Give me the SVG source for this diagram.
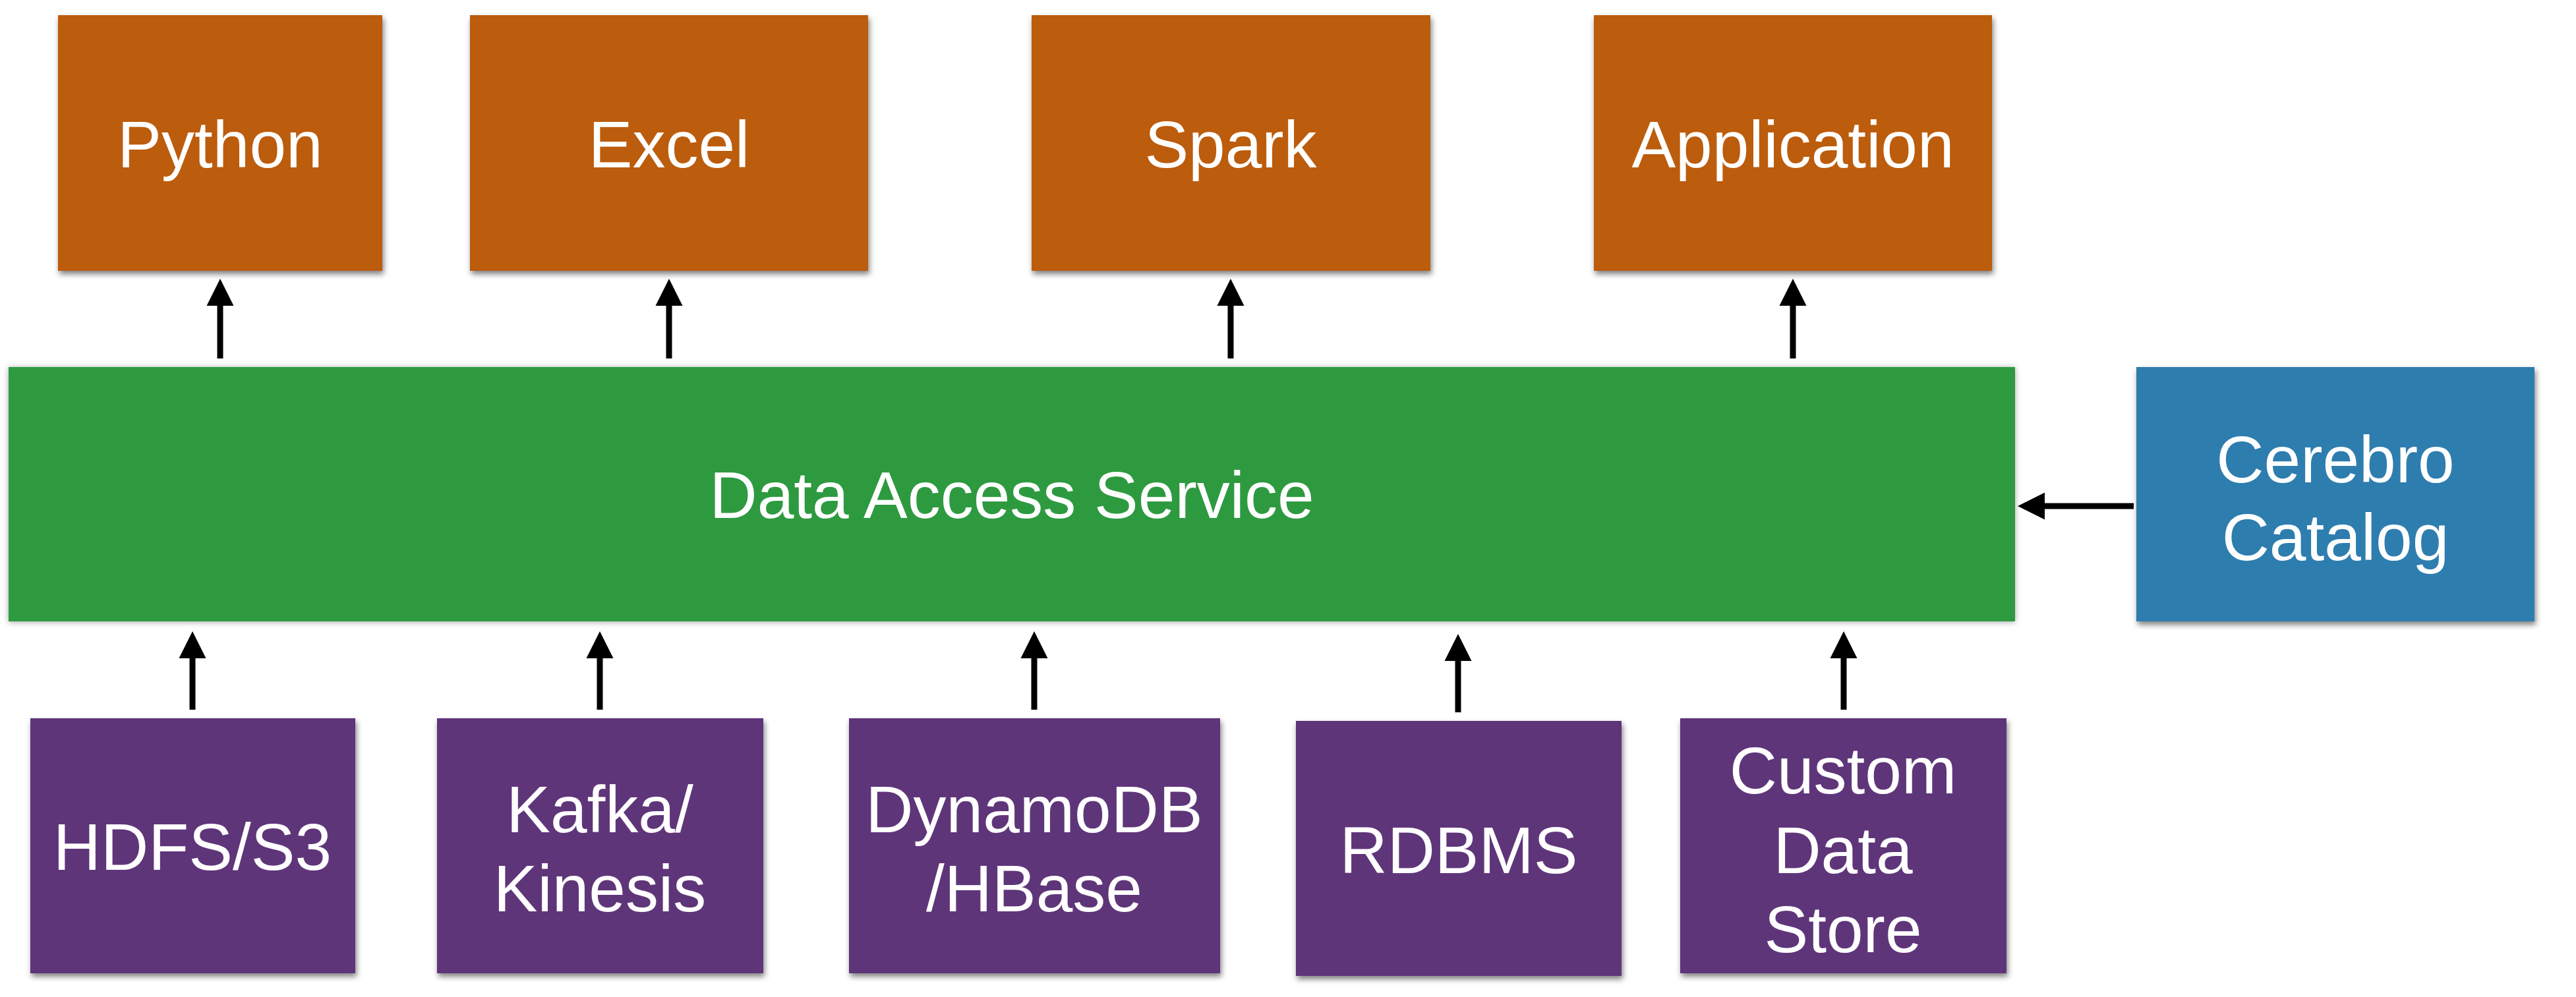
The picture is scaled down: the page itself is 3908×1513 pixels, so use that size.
<svg xmlns="http://www.w3.org/2000/svg" width="3908" height="1513" viewBox="0 0 3908 1513">
  <style>
    .lbl { font-family: "Liberation Sans", Arial, Helvetica, sans-serif; font-size: 100px; fill: #ffffff; text-anchor: middle; }
    .out { fill: #BC5C0C; }
    .svc { fill: #2F9A41; }
    .cat { fill: #2F7DAF; }
    .src { fill: #5E347A; }
    .conn { stroke: #000000; stroke-width: 9; fill: none; marker-end: url(#head); }
  </style>
  <defs>
    <filter id="shadow" x="-10%" y="-10%" width="125%" height="130%">
      <feDropShadow dx="2" dy="5" stdDeviation="4" flood-color="#000000" flood-opacity="0.5"/>
    </filter>
    <filter id="shadow2" x="-5%" y="-10%" width="110%" height="125%">
      <feDropShadow dx="0" dy="1" stdDeviation="5" flood-color="#000000" flood-opacity="0.35"/>
    </filter>
    <marker id="head" markerUnits="userSpaceOnUse" markerWidth="42" markerHeight="42" refX="0" refY="20.5" orient="auto" viewBox="0 0 42 41" overflow="visible">
      <path d="M0,0 L41,20.5 L0,41 Z" fill="#000000"/>
    </marker>
  </defs>
  <rect x="0" y="0" width="3908" height="1513" fill="#ffffff"/>

  <g id="python">
    <rect class="out" x="88" y="23" width="492" height="388" filter="url(#shadow)"/>
    <text class="lbl" x="334" y="254">Python</text>
  </g>
  <g id="excel">
    <rect class="out" x="713" y="23" width="604" height="388" filter="url(#shadow)"/>
    <text class="lbl" x="1015" y="254">Excel</text>
  </g>
  <g id="spark">
    <rect class="out" x="1565" y="23" width="605" height="388" filter="url(#shadow)"/>
    <text class="lbl" x="1867" y="254">Spark</text>
  </g>
  <g id="application">
    <rect class="out" x="2418" y="23" width="604" height="388" filter="url(#shadow)"/>
    <text class="lbl" x="2720" y="254">Application</text>
  </g>

  <g id="data-access-service">
    <rect class="svc" x="13" y="557" width="3044" height="386" filter="url(#shadow2)"/>
    <text class="lbl" x="1535" y="786">Data Access Service</text>
  </g>
  <g id="cerebro-catalog">
    <rect class="cat" x="3241" y="557" width="604" height="386" filter="url(#shadow)"/>
    <text class="lbl" x="3543" y="732">Cerebro</text>
    <text class="lbl" x="3543" y="850">Catalog</text>
  </g>

  <g id="hdfs-s3">
    <rect class="src" x="46" y="1090" width="493" height="387" filter="url(#shadow)"/>
    <text class="lbl" x="292" y="1320">HDFS/S3</text>
  </g>
  <g id="kafka-kinesis">
    <rect class="src" x="663" y="1090" width="495" height="387" filter="url(#shadow)"/>
    <text class="lbl" x="910" y="1263">Kafka/</text>
    <text class="lbl" x="910" y="1383">Kinesis</text>
  </g>
  <g id="dynamodb-hbase">
    <rect class="src" x="1288" y="1090" width="563" height="387" filter="url(#shadow)"/>
    <text class="lbl" x="1569" y="1263">DynamoDB</text>
    <text class="lbl" x="1569" y="1383">/HBase</text>
  </g>
  <g id="rdbms">
    <rect class="src" x="1966" y="1094" width="494" height="387" filter="url(#shadow)"/>
    <text class="lbl" x="2213" y="1325">RDBMS</text>
  </g>
  <g id="custom-data-store">
    <rect class="src" x="2549" y="1090" width="495" height="387" filter="url(#shadow)"/>
    <text class="lbl" x="2796" y="1204">Custom</text>
    <text class="lbl" x="2796" y="1325">Data</text>
    <text class="lbl" x="2796" y="1445">Store</text>
  </g>

  <g id="connectors">
    <line class="conn" x1="334" y1="544" x2="334" y2="464"/>
    <line class="conn" x1="1015" y1="544" x2="1015" y2="464"/>
    <line class="conn" x1="1867" y1="544" x2="1867" y2="464"/>
    <line class="conn" x1="2720" y1="544" x2="2720" y2="464"/>
    <line class="conn" x1="292" y1="1077" x2="292" y2="999"/>
    <line class="conn" x1="910" y1="1077" x2="910" y2="999"/>
    <line class="conn" x1="1569" y1="1077" x2="1569" y2="999"/>
    <line class="conn" x1="2212" y1="1081" x2="2212" y2="1003"/>
    <line class="conn" x1="2797" y1="1077" x2="2797" y2="999"/>
    <line class="conn" x1="3237" y1="768" x2="3102" y2="768"/>
  </g>
</svg>
